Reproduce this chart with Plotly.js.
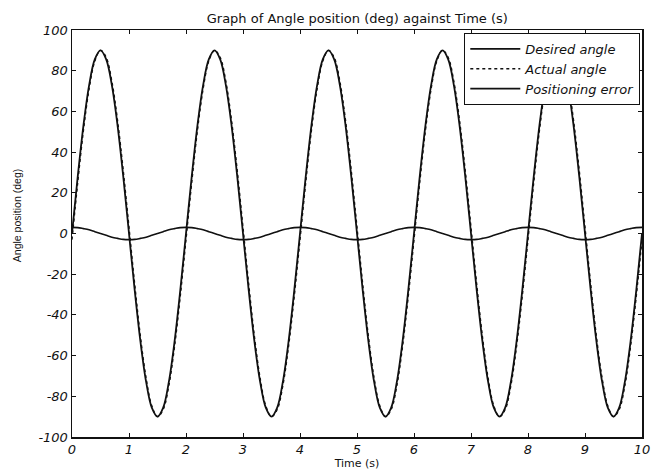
<!DOCTYPE html>
<html>
<head>
<meta charset="utf-8">
<script src="https://cdn.plot.ly/plotly-3.0.1.min.js"></script>
<style>html,body{margin:0;padding:0;background:#fff;}#chart{width:652px;height:470px;}</style>
</head>
<body>
<div id="chart"></div>
<script>
var timeS = [0,0.1,0.2,0.3,0.4,0.5,0.6,0.7,0.8,0.9,1,1.1,1.2,1.3,1.4,1.5,1.6,1.7,1.8,1.9,2,2.1,2.2,2.3,2.4,2.5,2.6,2.7,2.8,2.9,3,3.1,3.2,3.3,3.4,3.5,3.6,3.7,3.8,3.9,4,4.1,4.2,4.3,4.4,4.5,4.6,4.7,4.8,4.9,5,5.1,5.2,5.3,5.4,5.5,5.6,5.7,5.8,5.9,6,6.1,6.2,6.3,6.4,6.5,6.6,6.7,6.8,6.9,7,7.1,7.2,7.3,7.4,7.5,7.6,7.7,7.8,7.9,8,8.1,8.2,8.3,8.4,8.5,8.6,8.7,8.8,8.9,9,9.1,9.2,9.3,9.4,9.5,9.6,9.7,9.8,9.9,10];
var desiredAngle = [0,27.8,52.9,72.8,85.6,90,85.6,72.8,52.9,27.8,0,-27.8,-52.9,-72.8,-85.6,-90,-85.6,-72.8,-52.9,-27.8,
  0,27.8,52.9,72.8,85.6,90,85.6,72.8,52.9,27.8,0,-27.8,-52.9,-72.8,-85.6,-90,-85.6,-72.8,-52.9,-27.8,
  0,27.8,52.9,72.8,85.6,90,85.6,72.8,52.9,27.8,0,-27.8,-52.9,-72.8,-85.6,-90,-85.6,-72.8,-52.9,-27.8,
  0,27.8,52.9,72.8,85.6,90,85.6,72.8,52.9,27.8,0,-27.8,-52.9,-72.8,-85.6,-90,-85.6,-72.8,-52.9,-27.8,
  0,27.8,52.9,72.8,85.6,90,85.6,72.8,52.9,27.8,0,-27.8,-52.9,-72.8,-85.6,-90,-85.6,-72.8,-52.9,-27.8,0];
var actualAngle = [-3,24.9,50.5,71.0,84.7,90,86.5,74.6,55.3,30.7,3,-24.9,-50.5,-71.0,-84.7,-90,-86.5,-74.6,-55.3,-30.7,
  -3,24.9,50.5,71.0,84.7,90,86.5,74.6,55.3,30.7,3,-24.9,-50.5,-71.0,-84.7,-90,-86.5,-74.6,-55.3,-30.7,
  -3,24.9,50.5,71.0,84.7,90,86.5,74.6,55.3,30.7,3,-24.9,-50.5,-71.0,-84.7,-90,-86.5,-74.6,-55.3,-30.7,
  -3,24.9,50.5,71.0,84.7,90,86.5,74.6,55.3,30.7,3,-24.9,-50.5,-71.0,-84.7,-90,-86.5,-74.6,-55.3,-30.7,
  -3,24.9,50.5,71.0,84.7,90,86.5,74.6,55.3,30.7,3,-24.9,-50.5,-71.0,-84.7,-90,-86.5,-74.6,-55.3,-30.7,-3];
var positioningError = [3,2.9,2.4,1.8,0.9,0,-0.9,-1.8,-2.4,-2.9,-3,-2.9,-2.4,-1.8,-0.9,0,0.9,1.8,2.4,2.9,
  3,2.9,2.4,1.8,0.9,0,-0.9,-1.8,-2.4,-2.9,-3,-2.9,-2.4,-1.8,-0.9,0,0.9,1.8,2.4,2.9,
  3,2.9,2.4,1.8,0.9,0,-0.9,-1.8,-2.4,-2.9,-3,-2.9,-2.4,-1.8,-0.9,0,0.9,1.8,2.4,2.9,
  3,2.9,2.4,1.8,0.9,0,-0.9,-1.8,-2.4,-2.9,-3,-2.9,-2.4,-1.8,-0.9,0,0.9,1.8,2.4,2.9,
  3,2.9,2.4,1.8,0.9,0,-0.9,-1.8,-2.4,-2.9,-3,-2.9,-2.4,-1.8,-0.9,0,0.9,1.8,2.4,2.9,3];
var seriesNames = ["Desired angle", "Actual angle", "Positioning error"];
var xTicks = [0,1,2,3,4,5,6,7,8,9,10];
var yTicks = [-100,-80,-60,-40,-20,0,20,40,60,80,100];

var ink = "#111";
var wide = "DejaVu Sans, Verdana, sans-serif";
var tickFont = {family: wide, size: 13, color: ink};

var traces = [
  {x: timeS, y: desiredAngle, name: seriesNames[0], type: "scatter", mode: "lines",
   line: {color: ink, width: 1.8, shape: "spline", dash: "solid"}},
  {x: timeS, y: actualAngle, name: seriesNames[1], type: "scatter", mode: "lines",
   line: {color: ink, width: 1.4, shape: "spline", dash: "dot"}},
  {x: timeS, y: positioningError, name: seriesNames[2], type: "scatter", mode: "lines",
   line: {color: ink, width: 1.6, shape: "spline", dash: "solid"}}
];

var layout = {
  width: 652, height: 470,
  margin: {l: 72, r: 10, t: 30, b: 33, pad: 0},
  paper_bgcolor: "#fff", plot_bgcolor: "#fff",
  showlegend: true,
  title: {text: "Graph of Angle position (deg) against Time (s)",
          font: {family: wide, size: 13, color: ink},
          x: 0.548, xanchor: "center", y: 0.96, yanchor: "middle"},
  xaxis: {range: [0, 10], tickvals: xTicks, ticktext: xTicks.map(function(v){return "<i>" + v + "</i>";}),
          showgrid: false, zeroline: false, showline: true, mirror: "ticks",
          linecolor: ink, linewidth: 1.5, ticks: "inside", ticklen: 4, tickcolor: ink,
          tickfont: tickFont,
          title: {text: "Time (s)", font: {family: wide, size: 11, color: ink}, standoff: 1}},
  yaxis: {range: [-100, 100], tickvals: yTicks, ticktext: yTicks.map(function(v){return "<i>" + v + "</i>";}),
          showgrid: false, zeroline: false, showline: true, mirror: "ticks",
          linecolor: ink, linewidth: 1.5, ticks: "inside", ticklen: 4, tickcolor: ink,
          tickfont: tickFont},
  annotations: [{text: "Angle position (deg)", xref: "paper", yref: "paper",
                 x: -0.0965, y: 0.545, xanchor: "center", yanchor: "middle",
                 textangle: -90, showarrow: false,
                 font: {family: "Liberation Sans, Arial, sans-serif", size: 10.5, color: ink}}],
  legend: {x: 0.997, xanchor: "right", y: 0.993, yanchor: "top",
           bgcolor: "#fff", bordercolor: ink, borderwidth: 1,
           font: {family: wide, size: 13, color: ink, style: "italic"},
           tracegroupgap: 0, itemwidth: 50}
};

Plotly.newPlot("chart", traces, layout, {displayModeBar: false, staticPlot: true});
</script>
</body>
</html>
